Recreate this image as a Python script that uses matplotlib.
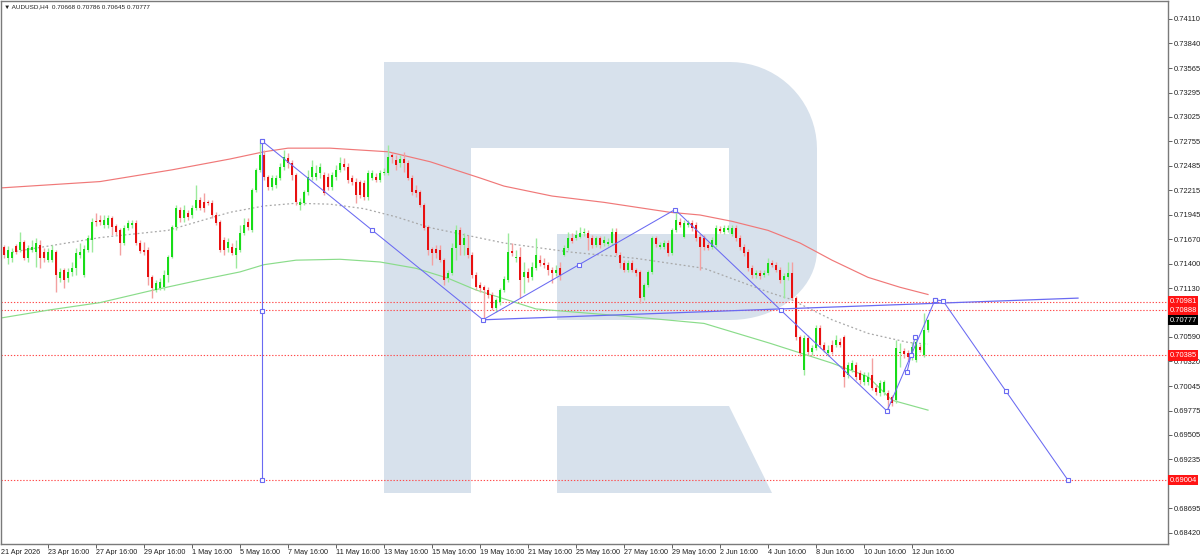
import numpy as np
import matplotlib
matplotlib.use('Agg')
import matplotlib.pyplot as plt
from matplotlib.patches import Polygon, Rectangle
from matplotlib.transforms import Affine2D, blended_transform_factory

# ---------------- data ----------------
symbol = 'AUDUSD,H4'
header_ohlc = ['0.70668', '0.70786', '0.70645', '0.70777']

opens = [
    .7159, .7146, .7146, .7160, .7155, .7164, .7146, .7155, .7153, .7161,
    .7153, .7144, .7144, .7153, .7124, .7133, .7124, .7131, .7135, .7150,
    .7128, .7155, .7166, .7187, .7188, .7183, .7183, .7191, .7182, .7177,
    .7163, .7180, .7183, .7185, .7163, .7155, .7155, .7125, .7111, .7113,
    .7114, .7128, .7148, .7181, .7200, .7191, .7196, .7194, .7202, .7211,
    .7208, .7208, .7207, .7194, .7186, .7166, .7157, .7159, .7150, .7155,
    .7174, .7186, .7177, .7222, .7244, .7260, .7236, .7225, .7227, .7235,
    .7247, .7257, .7252, .7238, .7205, .7207, .7219, .7236, .7236, .7240,
    .7238, .7236, .7225, .7236, .7244, .7250, .7247, .7235, .7231, .7231,
    .7229, .7214, .7235, .7236, .7233, .7240, .7240, .7260, .7255, .7252,
    .7256, .7252, .7235, .7222, .7219, .7205, .7181, .7156, .7156, .7155,
    .7144, .7124, .7130, .7157, .7177, .7161, .7157, .7150, .7128, .7117,
    .7114, .7111, .7105, .7091, .7098, .7111, .7122, .7154, .7146, .7148,
    .7125, .7131, .7125, .7135, .7144, .7141, .7139, .7133, .7130, .7135,
    .7150, .7157, .7169, .7169, .7170, .7174, .7174, .7169, .7161, .7168,
    .7163, .7162, .7163, .7175, .7150, .7141, .7133, .7141, .7133, .7131,
    .7103, .7117, .7131, .7168, .7159, .7159, .7163, .7152, .7177, .7186,
    .7170, .7183, .7185, .7183, .7170, .7169, .7161, .7159, .7161, .7179,
    .7175, .7177, .7173, .7180, .7169, .7159, .7153, .7135, .7128, .7130,
    .7128, .7130, .7141, .7139, .7133, .7122, .7125, .7130, .7102, .7059,
    .7022, .7058, .7042, .7047, .7069, .7050, .7041, .7050, .7050, .7053,
    .7059, .7017, .7022, .7028, .7019, .7009, .7009, .7017, .7003, .6997,
    .6998, .6997, .6992, .6989, .7041, .7043, .7041, .7037, .7034, .7048,
    .7039, .70668]

highs = [
    .7161, .7160, .7157, .7162, .7175, .7166, .7161, .7166, .7169, .7166,
    .7157, .7157, .7161, .7155, .7135, .7135, .7135, .7142, .7157, .7163,
    .7161, .7172, .7191, .7196, .7194, .7194, .7194, .7193, .7184, .7180,
    .7183, .7188, .7188, .7188, .7166, .7164, .7159, .7128, .7122, .7124,
    .7133, .7150, .7183, .7205, .7203, .7205, .7200, .7205, .7227, .7214,
    .7218, .7211, .7211, .7197, .7188, .7170, .7169, .7163, .7166, .7183,
    .7191, .7191, .7224, .7246, .7274, .7266, .7238, .7238, .7238, .7252,
    .7266, .7263, .7255, .7240, .7213, .7222, .7244, .7255, .7249, .7252,
    .7242, .7240, .7242, .7249, .7258, .7257, .7252, .7238, .7235, .7233,
    .7233, .7244, .7244, .7240, .7244, .7246, .7271, .7264, .7260, .7260,
    .7264, .7255, .7238, .7227, .7222, .7207, .7183, .7159, .7161, .7161,
    .7146, .7133, .7163, .7183, .7181, .7174, .7172, .7153, .7131, .7120,
    .7117, .7114, .7109, .7102, .7113, .7127, .7174, .7163, .7155, .7159,
    .7142, .7135, .7142, .7169, .7150, .7146, .7142, .7136, .7139, .7142,
    .7161, .7175, .7174, .7177, .7181, .7180, .7177, .7172, .7171, .7171,
    .7171, .7169, .7180, .7180, .7153, .7144, .7144, .7144, .7135, .7133,
    .7119, .7133, .7171, .7171, .7164, .7166, .7166, .7180, .7200, .7191,
    .7188, .7188, .7188, .7186, .7173, .7172, .7164, .7170, .7183, .7182,
    .7183, .7183, .7183, .7183, .7172, .7162, .7156, .7139, .7133, .7133,
    .7133, .7146, .7144, .7142, .7136, .7130, .7142, .7142, .7104, .7061,
    .7061, .7061, .7050, .7072, .7072, .7053, .7050, .7056, .7061, .7058,
    .7061, .7031, .7034, .7031, .7022, .7020, .7020, .7036, .7006, .7011,
    .7011, .7000, .6995, .7056, .7052, .7047, .7045, .7053, .7059, .7051,
    .7086, .70786]

lows = [
    .7146, .7140, .7142, .7151, .7153, .7144, .7142, .7153, .7136, .7135,
    .7142, .7142, .7142, .7109, .7120, .7113, .7120, .7127, .7128, .7146,
    .7125, .7153, .7153, .7182, .7183, .7180, .7180, .7172, .7172, .7150,
    .7161, .7177, .7180, .7161, .7152, .7150, .7117, .7102, .7109, .7111,
    .7111, .7120, .7146, .7177, .7186, .7186, .7188, .7191, .7200, .7200,
    .7197, .7205, .7191, .7183, .7153, .7150, .7153, .7150, .7135, .7153,
    .7172, .7177, .7175, .7219, .7242, .7233, .7222, .7222, .7224, .7233,
    .7244, .7246, .7233, .7205, .7200, .7205, .7216, .7233, .7233, .7235,
    .7216, .7222, .7222, .7233, .7242, .7244, .7229, .7227, .7207, .7213,
    .7211, .7211, .7233, .7231, .7231, .7238, .7238, .7252, .7244, .7247,
    .7242, .7233, .7216, .7214, .7203, .7177, .7150, .7139, .7146, .7142,
    .7117, .7120, .7128, .7144, .7150, .7150, .7146, .7124, .7111, .7109,
    .7078, .7102, .7089, .7087, .7094, .7109, .7120, .7149, .7142, .7102,
    .7108, .7120, .7122, .7133, .7138, .7135, .7128, .7119, .7127, .7122,
    .7149, .7155, .7163, .7166, .7168, .7171, .7155, .7157, .7159, .7157,
    .7160, .7160, .7161, .7150, .7135, .7131, .7131, .7131, .7127, .7097,
    .7100, .7114, .7129, .7159, .7156, .7156, .7149, .7150, .7175, .7181,
    .7168, .7181, .7176, .7165, .7133, .7155, .7155, .7156, .7159, .7174,
    .7173, .7175, .7171, .7165, .7155, .7149, .7132, .7124, .7124, .7123,
    .7125, .7128, .7136, .7131, .7119, .7102, .7122, .7100, .7056, .7038,
    .7017, .7039, .7039, .7045, .7047, .7042, .7038, .7040, .7048, .7048,
    .7004, .7014, .7020, .7011, .7007, .7006, .7006, .7000, .6995, .6994,
    .6995, .6978, .6983, .6986, .7026, .7036, .7034, .7034, .7031, .7042,
    .7037, .70645]

closes = [
    .7150, .7155, .7153, .7153, .7164, .7146, .7157, .7159, .7163, .7146,
    .7146, .7153, .7155, .7128, .7131, .7122, .7131, .7135, .7152, .7153,
    .7156, .7168, .7186, .7186, .7186, .7188, .7191, .7181, .7175, .7163,
    .7180, .7185, .7185, .7163, .7154, .7153, .7125, .7113, .7119, .7120,
    .7128, .7148, .7181, .7202, .7191, .7200, .7192, .7202, .7211, .7202,
    .7202, .7207, .7194, .7185, .7155, .7155, .7164, .7152, .7157, .7174,
    .7183, .7181, .7222, .7244, .7260, .7236, .7225, .7235, .7235, .7247,
    .7258, .7252, .7238, .7208, .7208, .7219, .7236, .7247, .7240, .7247,
    .7218, .7225, .7238, .7244, .7252, .7247, .7233, .7231, .7216, .7216,
    .7214, .7240, .7240, .7233, .7240, .7242, .7258, .7258, .7249, .7256,
    .7252, .7235, .7219, .7218, .7205, .7180, .7155, .7152, .7152, .7144,
    .7122, .7130, .7157, .7177, .7161, .7169, .7150, .7128, .7114, .7113,
    .7111, .7105, .7091, .7100, .7111, .7123, .7153, .7152, .7148, .7122,
    .7131, .7124, .7136, .7150, .7141, .7139, .7133, .7130, .7133, .7128,
    .7157, .7169, .7165, .7172, .7174, .7175, .7169, .7161, .7168, .7161,
    .7166, .7164, .7175, .7152, .7141, .7133, .7141, .7133, .7130, .7102,
    .7117, .7131, .7168, .7162, .7161, .7163, .7152, .7177, .7188, .7183,
    .7185, .7185, .7180, .7169, .7159, .7159, .7157, .7166, .7180, .7176,
    .7180, .7180, .7180, .7169, .7159, .7152, .7135, .7128, .7130, .7127,
    .7130, .7141, .7139, .7133, .7122, .7127, .7130, .7102, .7059, .7041,
    .7058, .7042, .7047, .7069, .7050, .7045, .7045, .7042, .7056, .7050,
    .7015, .7028, .7030, .7015, .7011, .7017, .7015, .7003, .6998, .7008,
    .7009, .6989, .6986, .7047, .7042, .7040, .7037, .7048, .7053, .7045,
    .7067, .70777]

# moving averages (bar index, price)
ma_red_x = [-0.75, 24, 42, 56.5, 65, 71, 81.5, 96, 106.5, 119, 125, 137, 150,
            166.5, 174, 182, 191, 199, 207, 216, 224, 231]
ma_red_y = [.7224, .7231, .7244, .7256, .7264, .7268, .7268, .7264, .7253, .7235,
            .7226, .7215, .7208, .7197, .7194, .7187, .7177, .7163, .7144, .7125,
            .7114, .7106]
ma_gray_x = [2, 24, 41, 56.5, 65, 73, 81.5, 90, 98, 106.5, 125, 141.5, 158, 175,
             191.5, 196.5, 207, 216, 226, 231]
ma_gray_y = [.7153, .7169, .7177, .7197, .7204, .7207, .7206, .7201, .7192, .7180,
             .7163, .7153, .7146, .7135, .7108, .7101, .7078, .7063, .7053, .7051]
ma_green_x = [-0.75, 11.5, 24, 36.5, 49, 59, 65, 73, 84, 94, 103, 111, 118, 133,
              158, 175, 191.5, 207, 216, 222, 231]
ma_green_y = [.7080, .7089, .7097, .7110, .7122, .7131, .7139, .7144, .7145, .7142,
              .7135, .7124, .7111, .7090, .7081, .7074, .7052, .7030, .7015, .6989,
              .6978]

# analysis lines (bar index, price)
vert_x = [64.5, 64.5, 64.5]
vert_y = [.7276, .7088, .69004]
wave_x = [64.5, 92.1, 119.75, 143.75, 167.75, 194.25, 220.75, 232.75]
wave_y = [.7276, .7177, .7078, .7139, .7200, .70885, .6977, .7100]
wave_marks = [0, 1, 2, 3, 4, 5, 6, 7]
trend_x = [119.75, 268.5]
trend_y = [.7078, .7102]
seg_x = [225.75, 226.75, 227.75]
seg_y = [.7020, .7039, .7059]
fc_x = [232.75, 234.75, 250.4, 266.0]
fc_y = [.7100, .7099, .69995, .69004]

levels = [0.70981, 0.70888, 0.70385, 0.69004]
last_price = 0.70777

ytick_vals = [0.74110, 0.73840, 0.73565, 0.73295, 0.73025, 0.72755, 0.72485,
              0.72215, 0.71945, 0.71670, 0.71400, 0.71130, 0.70590,
              0.70320, 0.70045, 0.69775, 0.69505, 0.69235, 0.68695,
              0.68420]

xtick_bars = [11, 23, 35, 47, 59, 71, 83, 95, 107, 119, 131, 143, 155, 167,
              179, 191, 203, 215, 227]
xtick_labels = ['23 Apr 16:00', '27 Apr 16:00', '29 Apr 16:00', '1 May 16:00',
                '5 May 16:00', '7 May 16:00', '11 May 16:00', '13 May 16:00',
                '15 May 16:00', '19 May 16:00', '21 May 16:00', '25 May 16:00',
                '27 May 16:00', '29 May 16:00', '2 Jun 16:00', '4 Jun 16:00',
                '8 Jun 16:00', '10 Jun 16:00', '12 Jun 16:00']
first_label = '21 Apr 2026'

# ---------------- styling ----------------
W, H = 1200, 555
FONT = ['Liberation Sans', 'DejaVu Sans']
plt.rcParams['font.family'] = FONT

fig = plt.figure(figsize=(W / 100, H / 100), dpi=100)
fig.patch.set_facecolor('white')
ax = fig.add_axes([1 / W, 11 / H, 1167 / W, 543 / H])
ax.set_facecolor('white')
ax.set_xlim(-0.75, 291)
ax.set_ylim(0.68298, 0.74309)

# watermark logo (figure pixel coords, y downward)
pix = Affine2D().scale(1, -1).translate(0, H)
logo_col = '#D7E1EC'
t1 = np.linspace(np.pi / 2, 0, 20)
arc1 = [(730 + 87 * np.cos(t), 149 - 87 * np.sin(t)) for t in t1]
t2 = np.linspace(0, -np.pi / 2, 20)
arc2 = [(730 + 87 * np.cos(t), 250 - 70 * np.sin(t)) for t in t2]
bowl = [(471, 62), (730, 62)] + arc1 + [(817, 250)] + arc2 + \
       [(557, 320), (557, 234), (729, 234), (729, 148), (471, 148)]
ax.add_patch(Rectangle((384, 62), 87, 431, transform=pix, fc=logo_col, ec='none', zorder=0))
ax.add_patch(Polygon(bowl, closed=True, transform=pix, fc=logo_col, ec='none', zorder=0))
ax.add_patch(Polygon([(557, 406), (729, 406), (772, 493), (557, 493)], closed=True,
                     transform=pix, fc=logo_col, ec='none', zorder=0))

# levels
for lv in levels:
    ax.axhline(lv, color='#FF4A4A', lw=0.8, ls=(0, (1.2, 1.6)), zorder=1)

# moving averages
ax.plot(ma_red_x, ma_red_y, color='#F07878', lw=0.85, zorder=2)
ax.plot(ma_green_x, ma_green_y, color='#8ADC8A', lw=0.85, zorder=2)
ax.plot(ma_gray_x, ma_gray_y, color='#A8A8A8', lw=0.9, ls=(0, (1.5, 2.0)), zorder=2)

# candles
O = np.array(opens); Hh = np.array(highs); L = np.array(lows); C = np.array(closes)
x = np.arange(len(O))
up = C >= O
dn = ~up
ax.vlines(x[up], L[up], Hh[up], color='#9BEA9B', lw=1.0, zorder=3)
ax.vlines(x[dn], L[dn], Hh[dn], color='#F3A0A0', lw=1.0, zorder=3)
body_lo = np.minimum(O, C)
body_h = np.maximum(np.abs(C - O), 0.00009)
ax.bar(x[up], body_h[up], bottom=body_lo[up], width=0.72, color='#18DC18', lw=0, zorder=4)
ax.bar(x[dn], body_h[dn], bottom=body_lo[dn], width=0.72, color='#E81010', lw=0, zorder=4)

# analysis lines
blue = '#6A6AF2'
mk = dict(marker='s', ms=3.2, mfc='white', mec=blue, mew=0.8)
ax.plot(vert_x, vert_y, color=blue, lw=0.8, zorder=5, **mk)
ax.plot(wave_x, wave_y, color=blue, lw=0.75, zorder=5)
ax.plot(np.array(wave_x)[wave_marks], np.array(wave_y)[wave_marks], ls='none', zorder=6, **mk)
ax.plot(trend_x, trend_y, color=blue, lw=0.9, zorder=5)
ax.plot(seg_x, seg_y, color=blue, lw=0.75, zorder=5, **mk)
ax.plot(fc_x, fc_y, color=blue, lw=0.75, zorder=5, **mk)

# axes look
for s in ax.spines.values():
    s.set_color('#7A7A7A')
    s.set_linewidth(1.0)
ax.yaxis.tick_right()
ax.set_yticks(ytick_vals)
ax.set_yticklabels(['%.5f' % v for v in ytick_vals])
ax.tick_params(axis='y', direction='out', length=3, width=0.7, color='#606060',
               labelsize=5.4, labelcolor='#202020', pad=1)
ax.set_xticks([-0.75] + xtick_bars)
ax.set_xticklabels([first_label] + xtick_labels)
ax.tick_params(axis='x', direction='out', length=3, width=0.7, color='#606060',
               labelsize=5.2, labelcolor='#202020', pad=0.5)
for lab in ax.get_xticklabels():
    lab.set_horizontalalignment('left')
ax.xaxis.get_major_ticks()[0].tick1line.set_visible(False)

# price tags on the right
btf = blended_transform_factory(ax.transAxes, ax.transData)
for lv in levels:
    ax.text(1.0012, lv, '%.5f' % lv, transform=btf, ha='left', va='center',
            fontsize=5.4, color='white', clip_on=False, zorder=10,
            bbox=dict(boxstyle='square,pad=0.22', fc='#FF1414', ec='none'))
ax.text(1.0012, last_price, '%.5f' % last_price, transform=btf, ha='left', va='center',
        fontsize=5.4, color='white', clip_on=False, zorder=10,
        bbox=dict(boxstyle='square,pad=0.22', fc='#000000', ec='none'))

# header
fig.text(4 / W, 1 - 7 / H, '\u25BC ' + symbol + '  ' + ' '.join(header_ohlc),
         fontsize=4.6, color='#202020', ha='left', va='center', family=FONT)

fig.savefig('out.png', dpi=100, facecolor='white')
